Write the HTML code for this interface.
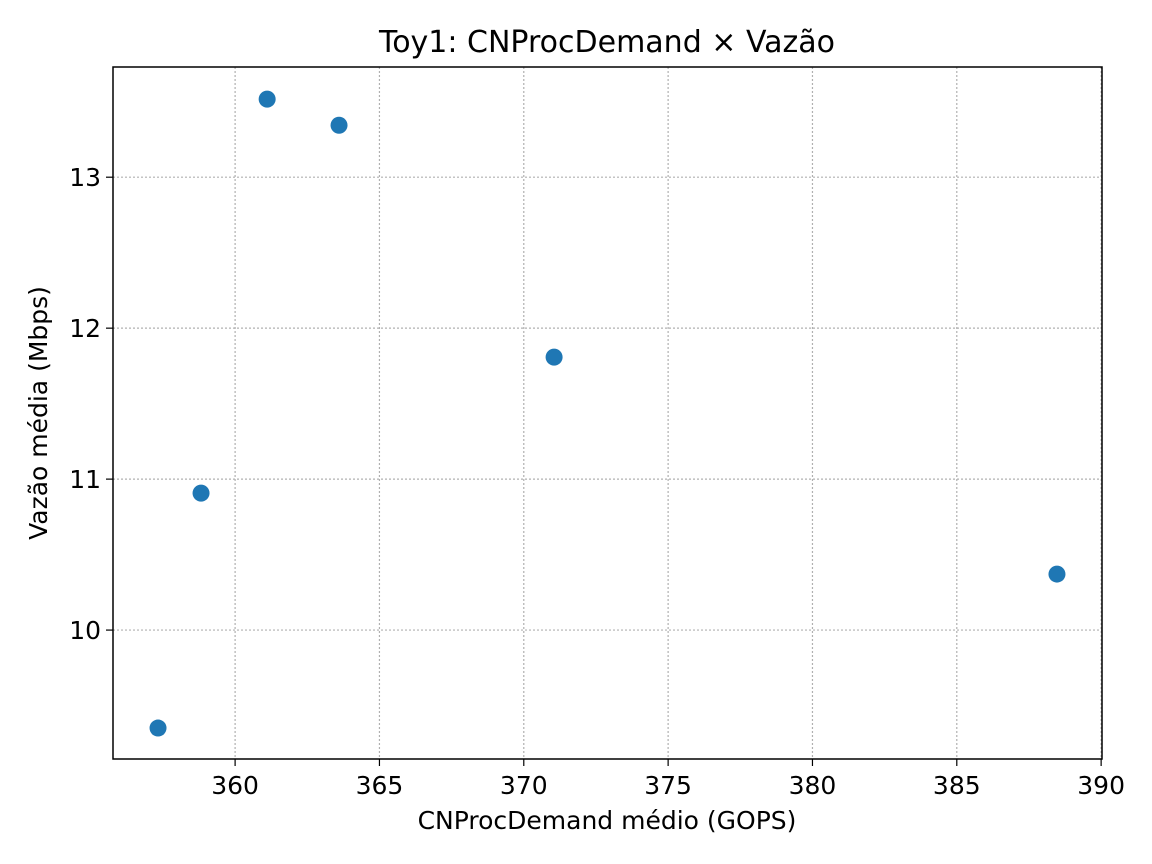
<!DOCTYPE html>
<html><head><meta charset="utf-8">
<style>
html,body{margin:0;padding:0;background:#fff;}
svg{display:block;font-family:"DejaVu Sans","Liberation Sans",sans-serif;}
</style></head>
<body>
<svg id="chart" width="1152" height="864" viewBox="0 0 1152 864">
  <rect width="1152" height="864" fill="#fff"/>
  <text x="607" y="52" font-size="30" text-anchor="middle" fill="#000">Toy1: CNProcDemand × Vazão</text>
  <g id="grid"></g>
  <g id="ticks"></g>
  <g id="points"></g>
  <rect x="113" y="67" width="989" height="692" fill="none" stroke="#000" stroke-width="1.5"/>
  <text x="607" y="829" font-size="25" text-anchor="middle" fill="#000">CNProcDemand médio (GOPS)</text>
  <text transform="translate(47,413) rotate(-90)" font-size="25" text-anchor="middle" fill="#000">Vazão média (Mbps)</text>
</svg>
<script>
const xValues = [357.33, 358.82, 361.11, 363.60, 371.05, 388.47];
const yValues = [9.351, 10.907, 13.517, 13.344, 11.808, 10.371];
const xTicks = [360, 365, 370, 375, 380, 385, 390];
const yTicks = [10, 11, 12, 13];

const L=113,R=1102,T=67,B=759;
const xMin=355.77,xMax=390.03,yMin=9.146,yMax=13.73;
const sx=v=>L+(v-xMin)/(xMax-xMin)*(R-L);
const sy=v=>B-(v-yMin)/(yMax-yMin)*(B-T);
const NS="http://www.w3.org/2000/svg";
const grid=document.getElementById('grid'),ticks=document.getElementById('ticks'),pts=document.getElementById('points');
function mk(tag,attrs,parent){const e=document.createElementNS(NS,tag);for(const k in attrs)e.setAttribute(k,attrs[k]);parent.appendChild(e);return e;}
xTicks.forEach(t=>{
  const x=sx(t);
  const g=mk('line',{x1:x,x2:x,y1:T,y2:B,stroke:'#b0b0b0','stroke-width':1.2,'stroke-dasharray':'2,2'},grid);
  
  
  const tk=mk('line',{x1:x,x2:x,y1:B,y2:B+7,stroke:'#000','stroke-width':1.2},ticks);
  
  
  const lb=mk('text',{x:x,y:B+35,'font-size':25,'text-anchor':'middle',fill:'#000'},ticks);
  lb.textContent=t;
  
  
});
yTicks.forEach(t=>{
  const y=sy(t);
  const g=mk('line',{x1:L,x2:R,y1:y,y2:y,stroke:'#b0b0b0','stroke-width':1.2,'stroke-dasharray':'2,2'},grid);
  
  
  const tk=mk('line',{x1:L-7,x2:L,y1:y,y2:y,stroke:'#000','stroke-width':1.2},ticks);
  
  
  const lb=mk('text',{x:L-12,y:y+9,'font-size':25,'text-anchor':'end',fill:'#000'},ticks);
  lb.textContent=t;
  
  
});
xValues.forEach((v,i)=>{
  const c=mk('circle',{cx:sx(v),cy:sy(yValues[i]),r:8.5,fill:'#1f77b4'},pts);
  
  
});
</script>
</body></html>
